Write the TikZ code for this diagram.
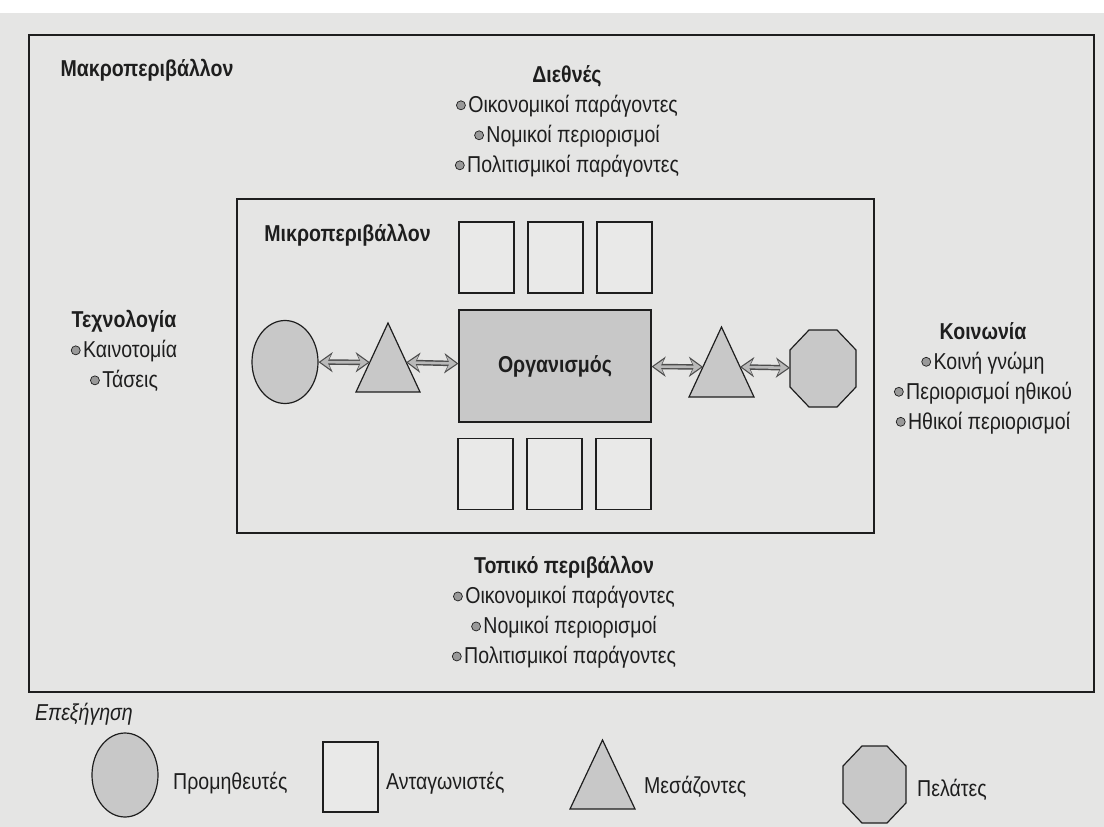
\documentclass[tikz,border=0pt]{standalone}
\usepackage{fontspec}
\setmainfont[FakeStretch=0.85]{Liberation Sans}
\usepackage{tikz}
\usetikzlibrary{shapes.geometric}
\usetikzlibrary{arrows.meta}
\usetikzlibrary{calc}
\usetikzlibrary{positioning}

\definecolor{paper}{RGB}{229,229,228}
\definecolor{shade}{RGB}{200,200,200}
\definecolor{ink}{RGB}{30,30,30}

\newcommand{\bul}{\tikz[baseline=-0.6ex]\filldraw[fill=gray!80,draw=ink,line width=0.7pt] (0,0) circle (4.5pt);\hspace{2.5pt}}
\newcommand{\tripath}[1]{\draw[shapeline,fill=shade] (#1.south west) -- (#1.north) -- (#1.south east) -- cycle;}
\newcommand{\octpath}[1]{\draw[shapeline,fill=shade]
  ($(#1.north west)+(19,0)$) -- ($(#1.north east)+(-19,0)$) -- ($(#1.north east)+(0,20)$)
  -- ($(#1.south east)+(0,-20)$) -- ($(#1.south east)+(-19,0)$) -- ($(#1.south west)+(19,0)$)
  -- ($(#1.south west)+(0,-20)$) -- ($(#1.north west)+(0,20)$) -- cycle;}
\newcommand{\linkarrow}[2]{\draw[arrowrim] (#1) -- (#2); \draw[arrowcore] (#1) -- (#2);}

\begin{document}
\begin{tikzpicture}[x=1pt,y=-1pt,
    txt/.style={font=\fontsize{23}{30}\selectfont,text=ink,inner sep=0pt,align=center},
    head/.style={txt,font=\fontsize{23}{30}\selectfont\bfseries},
    frame/.style={draw=ink,line width=1.6pt},
    shapeline/.style={draw=ink,line width=1.2pt},
    card/.style={shapeline,fill=paper!85!white,minimum width=55pt,minimum height=71pt,inner sep=0pt},
    slot/.style={inner sep=0pt,outer sep=0pt},
    arrowrim/.style={draw=black!70,line width=5.5pt,
      {Stealth[length=14pt,width=20pt]}-{Stealth[length=14pt,width=20pt]}},
    arrowcore/.style={draw=gray!55,line width=2.6pt,shorten <=2pt,shorten >=2pt,
      {Stealth[length=10pt,width=14pt]}-{Stealth[length=10pt,width=14pt]}}]
    \useasboundingbox (0,0) rectangle (1104,827);
    \fill[paper] (0,13) rectangle (1104,827);

    % macro environment
    \draw[frame] (29,35) rectangle (1094,692);
    \node[head] (macro) at (147,70) {Μακροπεριβάλλον};
    \node[txt] (intl) at (567,121.5) {\textbf{Διεθνές}\\ \bul Οικονομικοί παράγοντες\\
      \bul Νομικοί περιορισμοί\\ \bul Πολιτισμικοί παράγοντες};
    \node[txt] (tech) at (124,351) {\textbf{Τεχνολογία}\\ \bul Καινοτομία\\ \bul Τάσεις};
    \node[txt] (soc) at (983,378) {\textbf{Κοινωνία}\\ \bul Κοινή γνώμη\\
      \bul Περιορισμοί ηθικού\\ \bul Ηθικοί περιορισμοί};
    \node[txt] (local) at (564,612.5) {\textbf{Τοπικό περιβάλλον}\\ \bul Οικονομικοί παράγοντες\\
      \bul Νομικοί περιορισμοί\\ \bul Πολιτισμικοί παράγοντες};

    % micro environment
    \draw[frame] (237,199) rectangle (874,533);
    \node[head] (micro) at (347.5,235) {Μικροπεριβάλλον};
    \foreach \cx [count=\i] in {486.5,555.5,624.5} {
      \node[card] (top\i) at (\cx,257.5) {};
      \node[card] (bot\i) at (\cx-1,474) {};
    }
    \node[shapeline,fill=shade,minimum width=192pt,minimum height=112pt,head] (org) at (555,366) {Οργανισμός};
    \node[shapeline,fill=shade,ellipse,minimum width=66pt,minimum height=83pt,inner sep=0pt] (sup) at (285,362) {};
    \node[slot,minimum width=64pt,minimum height=69pt] (midl) at (388,357.5) {};
    \node[slot,minimum width=65pt,minimum height=70pt] (midr) at (721.5,362) {};
    \node[slot,minimum width=66pt,minimum height=77pt] (cust) at (823,368.5) {};
    \tripath{midl}
    \tripath{midr}
    \octpath{cust}
    \coordinate (midl-w) at ($(midl.south west)!0.43!(midl.north)$);
    \coordinate (midl-e) at ($(midl.south east)!0.43!(midl.north)$);
    \coordinate (midr-w) at ($(midr.south west)!0.43!(midr.north)$);
    \coordinate (midr-e) at ($(midr.south east)!0.43!(midr.north)$);
    \linkarrow{sup}{midl-w}
    \linkarrow{midl-e}{org}
    \linkarrow{org}{midr-w}
    \linkarrow{midr-e}{cust}

    % legend
    \node[txt,anchor=west,font=\fontsize{23}{30}\selectfont\itshape] (key) at (35,714) {Επεξήγηση};
    \node[shapeline,fill=shade,ellipse,minimum width=66pt,minimum height=84pt,inner sep=0pt] (ksup) at (125,775) {};
    \node[txt,anchor=west] (ksupl) at (173,783) {Προμηθευτές};
    \node[card,minimum width=55pt,minimum height=70pt] (kcomp) at (350.5,777) {};
    \node[txt,anchor=west] (kcompl) at (386,783) {Ανταγωνιστές};
    \node[slot,minimum width=65pt,minimum height=69pt] (kmid) at (602.5,774.5) {};
    \tripath{kmid}
    \node[txt,anchor=west] (kmidl) at (644,787) {Μεσάζοντες};
    \node[slot,minimum width=63pt,minimum height=77pt] (kcust) at (874.5,784.5) {};
    \octpath{kcust}
    \node[txt,anchor=west] (kcustl) at (917,790) {Πελάτες};
\end{tikzpicture}
\end{document}
